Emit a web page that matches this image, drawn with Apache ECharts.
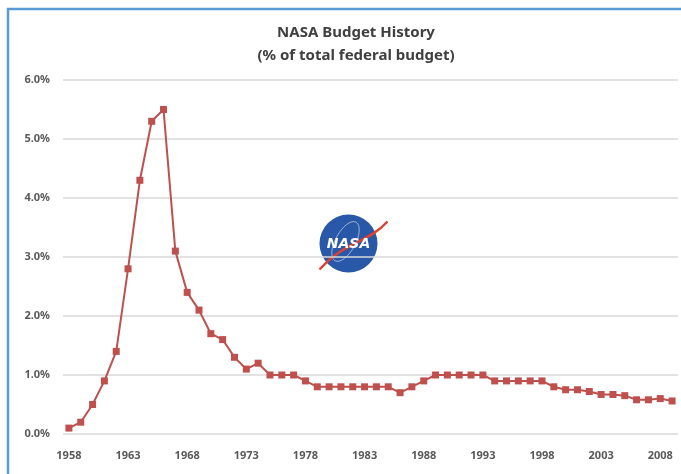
<!DOCTYPE html>
<html>
<head>
<meta charset="utf-8">
<title>NASA Budget History</title>
<script src="https://cdn.jsdelivr.net/npm/echarts@6/dist/echarts.min.js"></script>
<style>
  html, body { margin: 0; padding: 0; background: #fff; }
  #chart { width: 681px; height: 474px; }
</style>
</head>
<body>
<div id="chart"></div>
<script>
  // fiscal years 1958 - 2009
  const years = []
  for (let y = 1958; y <= 2009; y++) years.push(String(y))

  // NASA share of the federal budget, in percent
  const budgetShare = [
    0.1, 0.2, 0.5, 0.9, 1.4, 2.8, 4.3, 5.3, 5.5, 3.1,
    2.4, 2.1, 1.7, 1.6, 1.3, 1.1, 1.2, 1.0, 1.0, 1.0,
    0.9, 0.8, 0.8, 0.8, 0.8, 0.8, 0.8, 0.8, 0.7, 0.8,
    0.9, 1.0, 1.0, 1.0, 1.0, 1.0, 0.9, 0.9, 0.9, 0.9,
    0.9, 0.8, 0.75, 0.75, 0.72, 0.67, 0.67, 0.65, 0.58, 0.58,
    0.6, 0.56
  ]

  const labelFont = 'Noto Sans'
  const chart = echarts.init(document.getElementById('chart'))

  chart.setOption({
    backgroundColor: '#fff',
    animation: false,
    title: {
      text: 'NASA Budget History\n(% of total federal budget)',
      left: 351,
      textAlign: 'center',
      top: 16,
      textStyle: {
        fontFamily: labelFont,
        fontSize: 15,
        fontWeight: 'bold',
        color: '#404040',
        lineHeight: 23
      }
    },
    grid: {
      left: 63,
      right: 3,
      top: 80,
      bottom: 40
    },
    xAxis: {
      type: 'category',
      data: years,
      boundaryGap: true,
      axisLine: { show: false },
      axisTick: { show: false },
      axisLabel: {
        interval: 4,
        margin: 16,
        fontFamily: labelFont,
        fontSize: 11,
        fontWeight: 'bold',
        color: '#595959'
      }
    },
    yAxis: {
      type: 'value',
      min: 0,
      max: 6,
      interval: 1,
      axisLine: { show: false },
      axisTick: { show: false },
      axisLabel: {
        margin: 13,
        fontFamily: labelFont,
        fontSize: 11,
        fontWeight: 'bold',
        color: '#595959',
        formatter: (v) => v.toFixed(1) + '%'
      },
      splitLine: {
        lineStyle: { color: '#d9d9d9', width: 1.5 }
      }
    },
    series: [
      {
        type: 'line',
        data: budgetShare,
        symbol: 'rect',
        symbolSize: 7,
        lineStyle: { color: '#c0504d', width: 2 },
        itemStyle: { color: '#c0504d' }
      }
    ],
    graphic: [
      // blue frame around the picture
      {
        type: 'rect',
        shape: { x: 8, y: 9, width: 700, height: 500 },
        style: { fill: 'none', stroke: '#5b9bd5', lineWidth: 2.5 },
        silent: true
      },
      // NASA meatball logo
      {
        type: 'group',
        left: 317,
        top: 214,
        silent: true,
        children: [
          {
            type: 'circle',
            shape: { cx: 29, cy: 30, r: 29 },
            style: { fill: '#2958a8' }
          },
          {
            type: 'ellipse',
            shape: { cx: 26, cy: 28, rx: 10, ry: 22 },
            rotation: -0.5,
            originX: 26,
            originY: 28,
            style: { fill: 'none', stroke: 'rgba(255,255,255,0.6)', lineWidth: 0.8 }
          },
          {
            type: 'bezierCurve',
            shape: { x1: 0, y1: 56, x2: 68, y2: 8, cpx1: 28, cpy1: 26, cpx2: 48, cpy2: 30 },
            style: { stroke: '#e0412f', lineWidth: 2.5, fill: 'none' }
          },
          {
            type: 'text',
            style: {
              text: 'NASA',
              x: 29,
              y: 31,
              align: 'center',
              verticalAlign: 'middle',
              fill: '#fff',
              font: 'italic bold 14px "DejaVu Sans"'
            }
          }
        ]
      }
    ]
  })
</script>
</body>
</html>
